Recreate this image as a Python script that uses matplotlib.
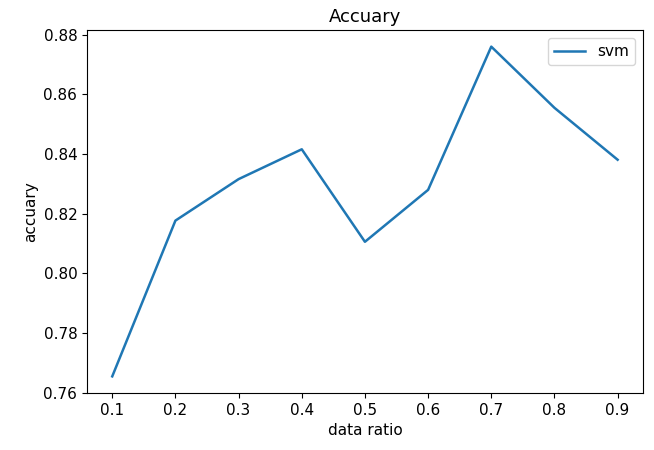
import matplotlib.pyplot as plt

# accuracy of the svm model for each training data ratio
ratios = [0.1, 0.2, 0.3, 0.4, 0.5, 0.6, 0.7, 0.8, 0.9]
svm_acc = [0.7655, 0.8177, 0.8316, 0.8416, 0.8106, 0.8280, 0.8760, 0.8555, 0.8381]

fig, ax = plt.subplots(figsize=(6.54, 4.5), dpi=100)
fig.subplots_adjust(left=0.133, right=0.983, top=0.933, bottom=0.127)

ax.plot(ratios, svm_acc, label='svm', linewidth=1.8)

ax.set_title('Accuary', fontsize=13)
ax.set_xlabel('data ratio', fontsize=11)
ax.set_ylabel('accuary', fontsize=11)
ax.set_xticks(ratios)
ax.tick_params(labelsize=11)
ax.legend(fontsize=11)

fig.savefig('out.png')
